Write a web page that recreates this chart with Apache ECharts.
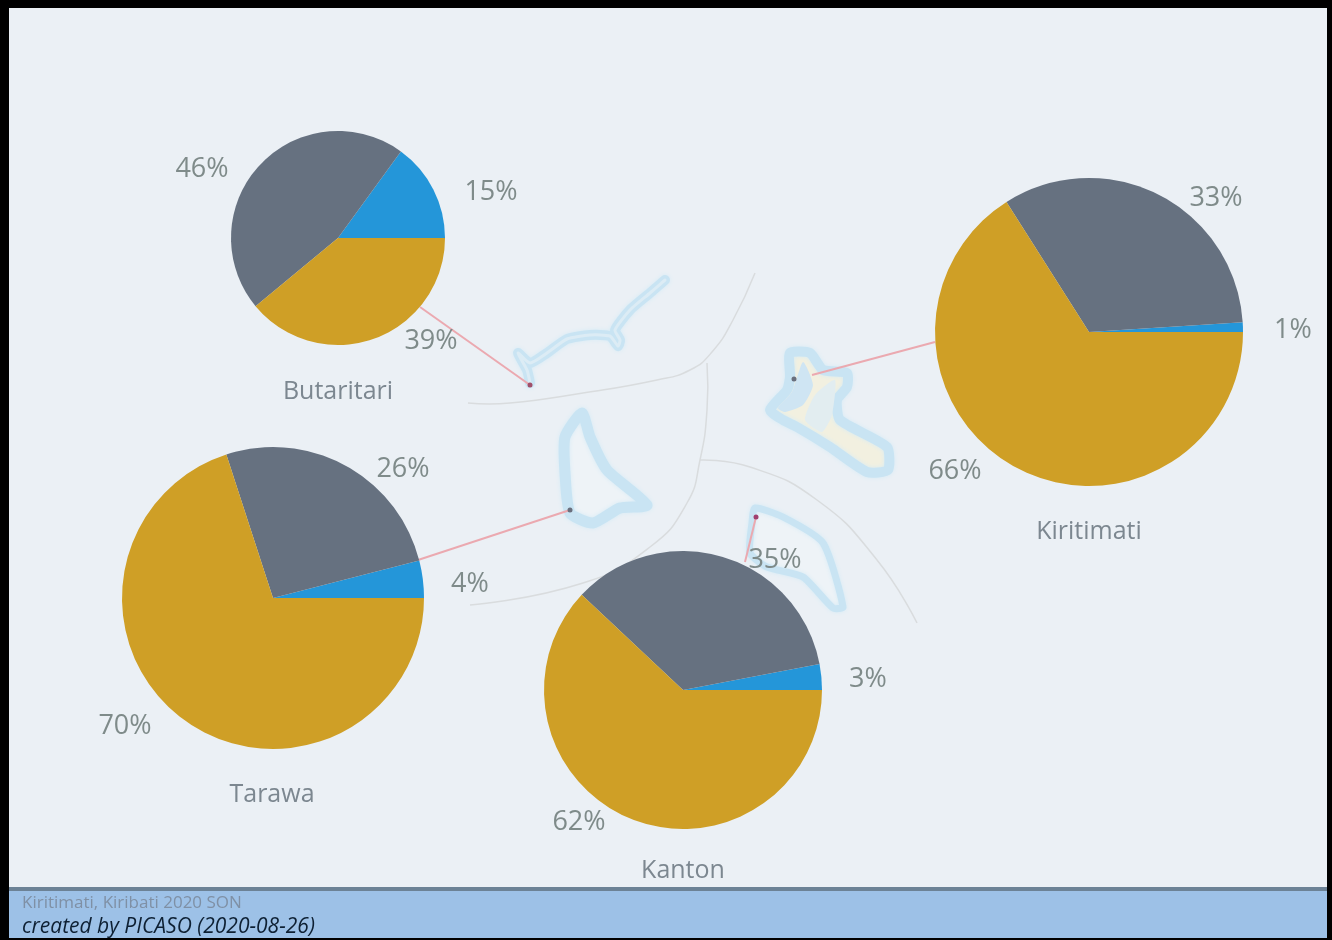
<!DOCTYPE html>
<html>
<head>
<meta charset="utf-8">
<title>Kiritimati, Kiribati 2020 SON</title>
<script src="https://cdn.jsdelivr.net/npm/echarts@6/dist/echarts.min.js"></script>
<style>
  html, body { margin: 0; padding: 0; background: #000; }
  #chart { width: 1332px; height: 940px; filter: blur(0.6px); }
</style>
</head>
<body>
<div id="chart"></div>
<script>
// data (slices go counter-clockwise from east)
var slices = ['low', 'middle', 'high'];
var butaritari = [15, 46, 39];
var kiritimati = [1, 33, 66];
var tarawa = [4, 26, 70];
var kanton = [3, 35, 62];
var islandNames = ['Butaritari', 'Kiritimati', 'Tarawa', 'Kanton'];
var footerTitle = 'Kiritimati, Kiribati 2020 SON';
var footerCredit = 'created by PICASO (2020-08-26)';

// layout
var colors = ['#2496d9', '#667180', '#cf9f26'];
var pieCenters = [[338, 238], [1089, 332], [273, 598], [683, 690]];
var pieRadius = [107, 154, 151, 139];
var namePos = [[338, 392], [1089, 532], [272, 795], [683, 871]];
var labelPos = [
  [[491, 192], [202, 169], [431, 341]],
  [[1293, 330], [1216, 198], [955, 471]],
  [[470, 584], [403, 469], [125, 726]],
  [[868, 679], [775, 560], [579, 822]]
];

// map decoration
var coast = '#c9e4f3';
var butaritariLine = [[530, 383], [527, 370], [518, 353], [530, 363], [547, 353], [567, 339], [590, 335], [610, 336], [618, 346], [620, 340], [615, 330], [630, 310], [650, 293], [665, 280]];
var tarawaLine = [[582, 413], [590, 437], [607, 470], [647, 505], [620, 508], [593, 523], [570, 513], [565, 473], [565, 437]];
var kiritimatiLine = [[790, 353], [810, 353], [823, 370], [847, 373], [847, 387], [837, 400], [840, 420], [887, 447], [888, 470], [867, 472], [830, 447], [797, 427], [783, 420], [770, 410], [787, 390], [790, 377]];
var kiritimatiLagoon = [[803, 362], [813, 385], [803, 405], [785, 412], [778, 408], [792, 392]];
var kiritimatiPond = [[815, 395], [835, 380], [832, 415], [822, 432], [805, 420]];
var kantonLine = [[755, 508], [783, 517], [823, 543], [843, 607], [833, 608], [803, 577], [767, 567], [750, 553], [752, 523]];
var borders = [
  [[468, 403], [510, 403], [583, 393], [657, 380], [690, 370], [712, 352], [733, 320], [755, 273]],
  [[707, 363], [707, 410], [700, 460], [687, 503], [650, 547], [583, 583], [470, 605]],
  [[700, 460], [750, 467], [817, 500], [877, 560], [917, 623]]
];
var leaders = [
  [[420, 307], [530, 385]],
  [[935, 342], [812, 375]],
  [[418, 560], [570, 510]],
  [[745, 562], [756, 517]]
];
var stations = [[530, 385, '#a0506a'], [794, 379, '#6a6f7d'], [570, 510, '#6a6f7d'], [756, 517, '#a0406f']];

var chart = echarts.init(document.getElementById('chart'));

function makePie(values, idx) {
  return {
    type: 'pie',
    silent: true,
    animation: false,
    startAngle: 0,
    clockwise: false,
    center: pieCenters[idx],
    radius: [0, pieRadius[idx]],
    data: values.map(function (v, i) {
      return { name: slices[i], value: v, itemStyle: { color: colors[i] } };
    }),
    label: {
      show: true,
      position: 'outside',
      overflow: 'none',
      formatter: function (p) { return p.value + '%'; },
      color: '#7f8b8a',
      fontFamily: 'Open Sans',
      fontSize: 27
    },
    labelLine: { show: false },
    labelLayout: function (p) {
      var xy = labelPos[idx][p.dataIndex];
      return { x: xy[0], y: xy[1], align: 'center', verticalAlign: 'middle' };
    }
  };
}

var graphics = [
  { type: 'rect', shape: { x: 9, y: 8, width: 1318, height: 882 }, style: { fill: '#ebf0f5' } },
  { type: 'rect', shape: { x: 9, y: 888, width: 1318, height: 50 }, style: { fill: '#9dc1e7' } },
  { type: 'rect', shape: { x: 9, y: 887, width: 1318, height: 4 }, style: { fill: '#6c8296' } }
];
borders.forEach(function (b) {
  graphics.push({ type: 'polyline', shape: { points: b, smooth: 0.5 }, style: { fill: null, stroke: '#d9dcde', lineWidth: 1.5 } });
});
// Butaritari: a thick pale stroke with a slightly lighter one down the middle
graphics.push({ type: 'polyline', shape: { points: butaritariLine, smooth: 0.2 }, style: { fill: null, stroke: coast, lineWidth: 10, lineJoin: 'round', lineCap: 'round', shadowBlur: 4, shadowColor: '#d5ebf6' } });
graphics.push({ type: 'polyline', shape: { points: butaritariLine, smooth: 0.2 }, style: { fill: null, stroke: '#dcecf5', lineWidth: 3, lineJoin: 'round', lineCap: 'round' } });
graphics.push({ type: 'polygon', shape: { points: tarawaLine, smooth: 0.2 }, style: { fill: '#eef3f7', stroke: coast, lineWidth: 11, lineJoin: 'round', shadowBlur: 4, shadowColor: '#d5ebf6' } });
graphics.push({ type: 'polygon', shape: { points: kiritimatiLine, smooth: 0.2 }, style: { fill: '#f2f0e0', stroke: coast, lineWidth: 10, lineJoin: 'round', shadowBlur: 4, shadowColor: '#d5ebf6' } });
graphics.push({ type: 'polygon', shape: { points: kiritimatiLagoon, smooth: 0.2 }, style: { fill: '#cfe5f3' } });
graphics.push({ type: 'polygon', shape: { points: kiritimatiPond, smooth: 0.2 }, style: { fill: '#e2edf0' } });
graphics.push({ type: 'polygon', shape: { points: kantonLine, smooth: 0.2 }, style: { fill: '#eef3f7', stroke: coast, lineWidth: 7, lineJoin: 'round', shadowBlur: 4, shadowColor: '#d5ebf6' } });
leaders.forEach(function (l) {
  graphics.push({ type: 'line', shape: { x1: l[0][0], y1: l[0][1], x2: l[1][0], y2: l[1][1] }, style: { stroke: '#eba9b0', lineWidth: 2 } });
});
stations.forEach(function (s) {
  graphics.push({ type: 'circle', shape: { cx: s[0], cy: s[1], r: 2.5 }, style: { fill: s[2] } });
});

var titles = islandNames.map(function (n, i) {
  return {
    text: n,
    left: namePos[i][0],
    top: namePos[i][1],
    padding: 0,
    textAlign: 'center',
    textVerticalAlign: 'middle',
    textStyle: { color: '#7c8790', fontFamily: 'Open Sans', fontSize: 25, fontWeight: 'normal' }
  };
});
titles.push({
  text: footerTitle, left: 22, top: 895, padding: 0,
  textStyle: { color: '#7f90a5', fontFamily: 'Open Sans', fontSize: 17, fontWeight: 'normal' }
});
titles.push({
  text: footerCredit, left: 22, top: 917, padding: 0,
  textStyle: { color: '#0e2033', fontFamily: 'Open Sans', fontSize: 21, fontStyle: 'italic', fontWeight: 'normal' }
});

chart.setOption({
  backgroundColor: '#000',
  animation: false,
  title: titles,
  graphic: { elements: graphics },
  series: [
    makePie(butaritari, 0),
    makePie(kiritimati, 1),
    makePie(tarawa, 2),
    makePie(kanton, 3)
  ]
});
</script>
</body>
</html>
